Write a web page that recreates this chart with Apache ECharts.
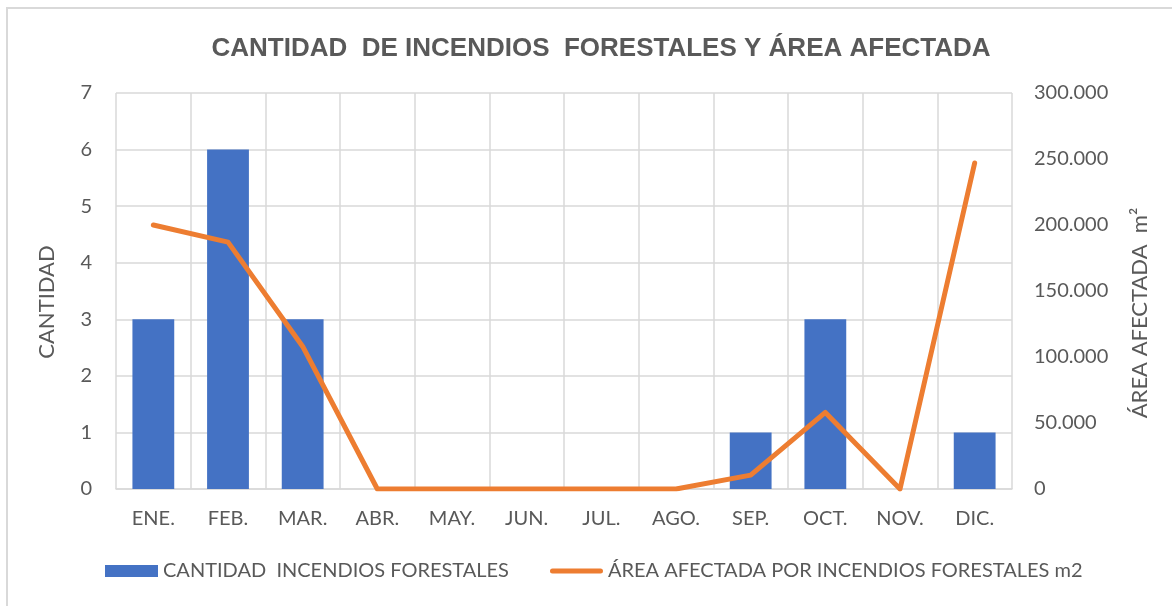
<!DOCTYPE html>
<html>
<head>
<meta charset="utf-8">
<script src="https://cdn.jsdelivr.net/npm/echarts@6/dist/echarts.min.js"></script>
<style>
  html, body { margin: 0; padding: 0; background: #fff; }
  #chart { position: absolute; left: 0; top: 0; width: 1172px; height: 606px; }
  #frame { position: absolute; left: 6px; top: 7px; width: 1200px; height: 700px; border: 2px solid #d9d9d9; box-sizing: border-box; pointer-events: none; }
</style>
</head>
<body>
<div id="chart"></div>
<div id="frame"></div>
<script>
  // meses
  const meses = ['ENE.', 'FEB.', 'MAR.', 'ABR.', 'MAY.', 'JUN.', 'JUL.', 'AGO.', 'SEP.', 'OCT.', 'NOV.', 'DIC.']
  // cantidad de incendios por mes
  const cantidad = [3, 6, 3, 0, 0, 0, 0, 0, 1, 3, 0, 1]
  // area afectada en m2
  const area = [200000, 187000, 108000, 0, 0, 0, 0, 0, 10500, 58000, 0, 247000]

  const nombreBarra = 'CANTIDAD  INCENDIOS FORESTALES'
  const nombreLinea = 'ÁREA AFECTADA POR INCENDIOS FORESTALES m2'

  const gris = '#595959'
  const rejilla = '#d9d9d9'
  const fuente = 'Lato, "Open Sans", sans-serif'

  function miles(v) {
    // separador de miles con punto
    return String(v).replace(/\B(?=(\d{3})+(?!\d))/g, '.')
  }

  const chart = echarts.init(document.getElementById('chart'))
  chart.setOption({
    backgroundColor: '#fff',
    animation: false,
    title: {
      text: 'CANTIDAD  DE INCENDIOS  FORESTALES Y ÁREA AFECTADA',
      left: 596,
      textAlign: 'center',
      top: 31,
      textStyle: {
        color: gris,
        fontSize: 26,
        fontWeight: 'bold',
        fontFamily: '"Liberation Sans", Arial, sans-serif'
      }
    },
    legend: {
      bottom: 20,
      left: 100,
      itemGap: 41,
      itemWidth: 53,
      itemHeight: 12,
      textStyle: { color: gris, fontSize: 20, fontFamily: fuente },
      data: [
        { name: nombreBarra, icon: 'rect' },
        { name: nombreLinea, icon: 'path://M2.5,0 h48 a2.5,2.5 0 0 1 0,5 h-48 a2.5,2.5 0 0 1 0,-5 z' }
      ]
    },
    grid: {
      left: 116,
      right: 160,
      top: 93,
      bottom: 117
    },
    xAxis: {
      type: 'category',
      data: meses,
      boundaryGap: true,
      axisLine: { show: true, lineStyle: { color: rejilla, width: 1.5 } },
      axisTick: { show: false },
      splitLine: { show: true, interval: 0, lineStyle: { color: rejilla, width: 1.5 } },
      axisLabel: { color: gris, fontSize: 20, fontFamily: fuente, margin: 20, interval: 0 }
    },
    yAxis: [
      {
        type: 'value',
        min: 0,
        max: 7,
        interval: 1,
        name: 'CANTIDAD',
        nameLocation: 'middle',
        nameGap: 58,
        nameTextStyle: { color: gris, fontSize: 22, fontFamily: fuente, padding: [0, 22, 0, 0] },
        axisLine: { show: false },
        axisTick: { show: false },
        splitLine: { show: true, lineStyle: { color: rejilla, width: 1.5 } },
        axisLabel: { color: gris, fontSize: 20, fontFamily: fuente, margin: 24 }
      },
      {
        type: 'value',
        min: 0,
        max: 300000,
        interval: 50000,
        name: 'ÁREA AFECTADA  m²',
        nameLocation: 'middle',
        nameGap: 117,
        nameTextStyle: { color: gris, fontSize: 22, fontFamily: fuente, padding: [0, 44, 0, 0] },
        axisLine: { show: false },
        axisTick: { show: false },
        splitLine: { show: false },
        axisLabel: {
          color: gris,
          fontSize: 20,
          fontFamily: fuente,
          margin: 22,
          formatter: function (v) { return miles(v) }
        }
      }
    ],
    series: [
      {
        name: nombreBarra,
        type: 'bar',
        yAxisIndex: 0,
        data: cantidad,
        barWidth: '56%',
        itemStyle: { color: '#4472c4' }
      },
      {
        name: nombreLinea,
        type: 'line',
        yAxisIndex: 1,
        data: area,
        symbol: 'none',
        lineStyle: { color: '#ed7d31', width: 5, cap: 'round', join: 'round' },
        itemStyle: { color: '#ed7d31' }
      }
    ]
  })
</script>
</body>
</html>
